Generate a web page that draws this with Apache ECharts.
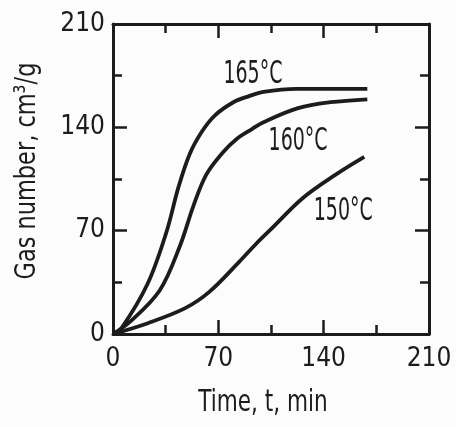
<!DOCTYPE html>
<html>
<head>
<meta charset="utf-8">
<script src="https://cdn.jsdelivr.net/npm/echarts@6/dist/echarts.min.js"></script>
<style>
  html, body { margin: 0; padding: 0; background: #fcfcfc; }
  #chart { width: 456px; height: 427px; }
</style>
</head>
<body>
<div id="chart"></div>
<script>
// Gas evolution curves at three temperatures
const time165 = [0, 5.6, 23, 35.5, 43.5, 51, 59, 67.6, 80, 90, 100, 122, 169];
const gas165  = [0, 3.9, 34, 69, 99.5, 122, 137, 148, 157, 161, 164, 166, 166];

const time160 = [0, 11, 31, 44.6, 53.5, 62, 73, 82, 92.6, 100, 123, 144.5, 169];
const gas160  = [0, 8, 29.5, 60, 87, 108, 123, 132, 139, 143.5, 153, 157, 159];

const time150 = [0, 23.6, 48, 64, 84, 95, 105, 126, 148, 167];
const gas150  = [0, 7.5, 17.5, 28.5, 49, 61, 71, 92, 108, 120];

// Curve captions, anchored in data units
const captionText = ['165°C', '160°C', '150°C'];
const captionTime = [93, 123, 153];
const captionGas  = [176, 130, 83];

const xTicks = [0, 70, 140, 210];
const yTicks = [0, 70, 140, 210];

const FONT = "'DejaVu Sans Condensed', 'DejaVu Sans', sans-serif";
const INK = '#1c1c1c';

const pairs = (xs, ys) => xs.map((x, i) => [x, ys[i]]);

const chart = echarts.init(document.getElementById('chart'), null, { renderer: 'canvas' });

const axisCommon = {
  type: 'value', interval: 70,
  axisLine: { show: true, onZero: false, lineStyle: { color: INK, width: 3 } },
  axisTick: { show: true, inside: true, length: 14, lineStyle: { color: INK, width: 2.5 } },
  minorTick: { show: true, splitNumber: 2, length: 9, lineStyle: { color: INK, width: 2.5 } },
  splitLine: { show: false },
  minorSplitLine: { show: false }
};
const xRange = { min: xTicks[0], max: xTicks[xTicks.length - 1] };
const yRange = { min: yTicks[0], max: yTicks[yTicks.length - 1] };
const tickFont = { color: INK, fontSize: 26, fontFamily: FONT };

const lineStyleOf = { width: 3.8, color: INK };

chart.setOption({
  backgroundColor: '#fcfcfc',
  animation: false,
  grid: { left: 113, right: 27, top: 24, bottom: 93, containLabel: false },
  xAxis: [
    Object.assign({}, axisCommon, xRange, {
      position: 'bottom',
      axisLabel: Object.assign({ show: true, margin: 12 }, tickFont)
    }),
    Object.assign({}, axisCommon, xRange, { position: 'top', axisLabel: { show: false } })
  ],
  yAxis: [
    Object.assign({}, axisCommon, yRange, {
      position: 'left',
      axisLabel: Object.assign({ show: true, margin: 8 }, tickFont)
    }),
    Object.assign({}, axisCommon, yRange, { position: 'right', axisLabel: { show: false } })
  ],
  series: [
    { name: '165°C', type: 'line', smooth: 0.35, showSymbol: false,
      data: pairs(time165, gas165), lineStyle: lineStyleOf },
    { name: '160°C', type: 'line', smooth: 0.35, showSymbol: false,
      data: pairs(time160, gas160), lineStyle: lineStyleOf },
    { name: '150°C', type: 'line', smooth: 0.35, showSymbol: false,
      data: pairs(time150, gas150), lineStyle: lineStyleOf }
  ]
});

// Axis titles and curve captions in a narrow lettering
const captions = captionText.map((t, i) => {
  const [px, py] = chart.convertToPixel({ gridIndex: 0 }, [captionTime[i], captionGas[i]]);
  return {
    type: 'text', x: px, y: py, scaleX: 0.66,
    style: { text: t, fill: INK, font: '32px ' + FONT, align: 'center', verticalAlign: 'middle' }
  };
});

chart.setOption({
  graphic: [
    { type: 'text', x: 263, y: 403, scaleX: 0.8,
      style: { text: 'Time, t, min', fill: INK, font: '30px ' + FONT, align: 'center', verticalAlign: 'middle' } },
    { type: 'text', x: 27, y: 171, rotation: Math.PI / 2, scaleX: 0.86,
      style: { text: 'Gas number, cm³/g', fill: INK, font: '29px ' + FONT, align: 'center', verticalAlign: 'middle' } }
  ].concat(captions)
});
</script>
</body>
</html>
